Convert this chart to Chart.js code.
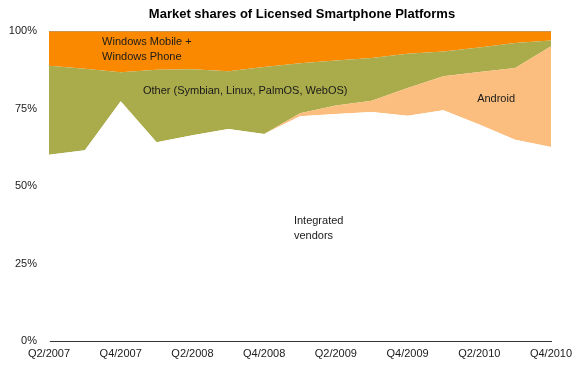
<!DOCTYPE html>
<html>
<head>
<meta charset="utf-8">
<script src="https://cdn.jsdelivr.net/npm/chart.js@4"></script>
<style>
  html, body { margin: 0; padding: 0; background: #fff; }
  #wrap { width: 581px; height: 376px; }
</style>
</head>
<body>
<div id="wrap"><canvas id="area"></canvas></div>
<script>
//data
const quarters = ['Q2/2007', 'Q3/2007', 'Q4/2007', 'Q1/2008', 'Q2/2008', 'Q3/2008', 'Q4/2008', 'Q1/2009',
    'Q2/2009', 'Q3/2009', 'Q4/2009', 'Q1/2010', 'Q2/2010', 'Q3/2010', 'Q4/2010'];
const integrated = [60.1, 61.5, 77.3, 64.1, 66.4, 68.4, 66.8, 72.5, 73.2, 73.9, 72.7, 74.4, 69.8, 64.9, 62.6];
const android = [0, 0, 0, 0, 0, 0, 0, 1.0, 2.8, 3.6, 8.9, 11.0, 17.0, 23.2, 32.5];
const other = [28.7, 26.3, 9.4, 23.4, 21.3, 18.6, 21.6, 16.1, 14.5, 13.8, 11.1, 8.0, 7.9, 8.0, 1.8];
const windows = [11.2, 12.2, 13.3, 12.5, 12.3, 13.0, 11.6, 10.4, 9.5, 8.7, 7.3, 6.6, 5.3, 3.9, 3.1];
const yTicks = [0, 25, 50, 75, 100];

//labels inside the areas, anchored in data units
const areaLabels = [
    { lines: ['Windows Mobile +', 'Windows Phone'], x: 1.48, y: 96.6 },
    { lines: ['Other (Symbian, Linux, PalmOS, WebOS)'], x: 2.62, y: 80.8 },
    { lines: ['Android'], x: 11.94, y: 78.2 },
    { lines: ['Integrated', 'vendors'], x: 6.83, y: 38.8 }
];

const FONT = '"Liberation Sans", Arial, Helvetica, sans-serif';
const TITLE = 'Market shares of Licensed Smartphone Platforms';

const areaText = {
    id: 'area_text',
    afterDatasetsDraw: (chart) => {
        const ctx = chart.ctx;
        const xs = chart.scales.x, ys = chart.scales.y;
        ctx.save();
        ctx.font = '11px ' + FONT;
        ctx.fillStyle = '#1a1a1a';
        ctx.textAlign = 'left';
        ctx.textBaseline = 'middle';
        areaLabels.forEach(l => {
            const px = xs.getPixelForValue(l.x);
            const py = ys.getPixelForValue(l.y);
            l.lines.forEach((t, i) => ctx.fillText(t, px, py + i * 15));
        });
        // title, centred over the plot area
        ctx.font = 'bold 13px ' + FONT;
        ctx.fillStyle = '#000';
        ctx.textAlign = 'center';
        ctx.fillText(TITLE, (chart.chartArea.left + chart.chartArea.right) / 2 + 2, 14);
        ctx.restore();
    }
};

const areaSet = (label, values, color, border) => ({
    label: label,
    data: values,
    backgroundColor: color,
    borderColor: border || color,
    borderWidth: border ? 1 : 0,
    fill: label === 'Integrated vendors' ? 'origin' : '-1',
    pointRadius: 0,
    tension: 0
});

//config
const config = {
    type: 'line',
    data: {
        labels: quarters,
        datasets: [
            areaSet('Integrated vendors', integrated, '#ffffff'),
            areaSet('Android', android, '#fcbe7e'),
            areaSet('Other', other, '#aaab4b'),
            areaSet('Windows Mobile + Windows Phone', windows, '#fb8900', '#a0a0a0')
        ]
    },
    options: {
        responsive: true,
        maintainAspectRatio: false,
        animation: false,
        layout: { padding: { left: 0, right: 30, top: 31, bottom: 0 } },
        plugins: {
            legend: { display: false },
            tooltip: { enabled: false },
            title: { display: false }
        },
        scales: {
            x: {
                grid: { color: 'transparent', drawTicks: false },
                border: { display: true, color: '#333333', width: 1 },
                ticks: {
                    autoSkip: false,
                    maxRotation: 0,
                    padding: 6,
                    color: '#1a1a1a',
                    font: { family: FONT, size: 11 },
                    callback: (v, i) => i % 2 === 0 ? quarters[i] : ''
                },
                afterFit: (s) => { s.height = 35; }
            },
            y: {
                stacked: true,
                min: 0,
                max: 100,
                grid: { color: 'transparent', drawTicks: false },
                border: { display: true, color: '#f6e2cc', width: 1 },
                afterBuildTicks: (s) => { s.ticks = yTicks.map(v => ({ value: v })); },
                ticks: {
                    padding: 12,
                    color: '#1a1a1a',
                    font: { family: FONT, size: 11 },
                    callback: (v) => v + '%'
                },
                afterFit: (s) => { s.width = 49; }
            }
        }
    },
    plugins: [areaText]
};

//render init
const chart = new Chart(document.getElementById('area'), config);
</script>
</body>
</html>
